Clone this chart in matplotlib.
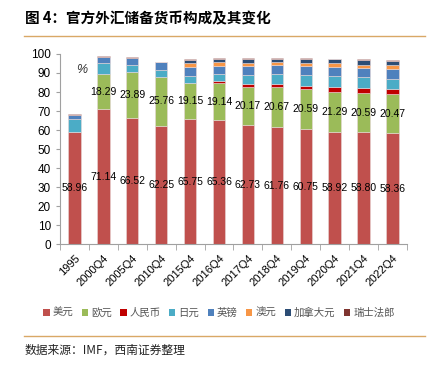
#!/usr/bin/env python3
"""
Official FX reserve currency composition (IMF COFER), stacked bars
"""
import numpy as np
import matplotlib.pyplot as plt
from matplotlib.lines import Line2D
from matplotlib.patches import Patch

plt.rcParams['font.family'] = ['Liberation Sans', 'Noto Sans CJK SC', 'DejaVu Sans']

periods = ['1995', '2000Q4', '2005Q4', '2010Q4', '2015Q4', '2016Q4',
           '2017Q4', '2018Q4', '2019Q4', '2020Q4', '2021Q4', '2022Q4']

usd = [58.96, 71.14, 66.52, 62.25, 65.75, 65.36, 62.73, 61.76, 60.75, 58.92, 58.80, 58.36]
eur = [0, 18.29, 23.89, 25.76, 19.15, 19.14, 20.17, 20.67, 20.59, 21.29, 20.59, 20.47]
cny = [0, 0, 0, 0, 0, 1.08, 1.23, 1.89, 1.94, 2.29, 2.80, 2.69]
jpy = [6.77, 6.06, 3.96, 3.66, 3.75, 3.95, 4.90, 5.19, 5.87, 6.03, 5.52, 5.51]
gbp = [2.11, 2.75, 3.75, 3.93, 4.72, 4.35, 4.54, 4.43, 4.64, 4.73, 4.81, 4.95]
aud = [0, 0, 0, 0, 1.77, 1.69, 1.80, 1.63, 1.70, 1.83, 1.84, 1.96]
cad = [0, 0, 0, 0, 1.78, 1.94, 2.03, 1.84, 1.86, 2.08, 2.38, 2.38]
chf = [0.53, 0.47, 0.35, 0.33, 0.27, 0.27, 0.28, 0.34, 0.35, 0.37, 0.37, 0.33]

series = [usd, eur, cny, jpy, gbp, aud, cad, chf]
names = ['美元', '欧元', '人民币', '日元', '英镑', '澳元', '加拿大元', '瑞士法郎']
colors = ['#C0504D', '#9BBB59', '#C00000', '#4BACC6', '#4F81BD',
          '#F79646', '#2C4D75', '#7F3530']

fig = plt.figure(figsize=(4.38, 3.67), dpi=100)
ax = fig.add_axes([0.137, 0.334, 0.792, 0.519])

x = np.arange(len(periods))
bottom = np.zeros(len(periods))
for vals, name, c in zip(series, names, colors):
    vals = np.array(vals)
    ax.bar(x, vals, 0.43, bottom=bottom, color=c, edgecolor='#E8D8D8',
           linewidth=0.4, label=name)
    bottom += vals

# value labels for USD and EUR
for i in range(len(periods)):
    ax.text(x[i], usd[i] / 2, f'{usd[i]:.2f}', ha='center', va='center',
            fontsize=7.5, color='black')
    if eur[i] > 0:
        ax.text(x[i], usd[i] + eur[i] / 2, f'{eur[i]:.2f}', ha='center',
                va='center', fontsize=7.5, color='black')

ax.set_xlim(-0.5, len(periods) - 0.5)
ax.set_ylim(0, 100)
ax.set_yticks(range(0, 101, 10))
ax.set_xticks(x)
ax.set_xticklabels(periods, rotation=45, ha='right', rotation_mode='anchor')
ax.set_xticks(np.arange(-0.5, len(periods), 1), minor=True)
ax.tick_params(axis='x', which='major', length=0, labelsize=8, pad=6)
ax.tick_params(axis='x', which='minor', length=4, color='#A0A0A0')
ax.tick_params(axis='y', labelsize=8.5, length=3, color='#A0A0A0')
for s in ['top', 'right']:
    ax.spines[s].set_visible(False)
for s in ['left', 'bottom']:
    ax.spines[s].set_color('#A0A0A0')
    ax.spines[s].set_linewidth(0.8)

ax.text(0.045, 0.9, '%', transform=ax.transAxes, fontsize=9, style='italic',
        color='#333333')

handles = [Patch(facecolor=c, edgecolor='none') for c in colors]
leg = fig.legend(handles, names, loc='center', bbox_to_anchor=(0.5, 0.147),
                 ncol=8, frameon=False, handlelength=0.6, handleheight=0.6,
                 handletextpad=0.3, columnspacing=0.8,
                 prop={'family': ['Noto Sans CJK SC'], 'size': 7.5})
for t in leg.get_texts():
    t.set_color('#555555')

# title and source lines
fig.text(0.057, 0.95, '图 4：官方外汇储备货币构成及其变化', fontsize=10.5,
         fontweight='bold', family=['Noto Sans CJK SC'], va='center')
fig.add_artist(Line2D([0.055, 0.97], [0.903, 0.903], color='#D9A866', lw=1.0))
fig.add_artist(Line2D([0.055, 0.97], [0.085, 0.085], color='#D9A866', lw=1.0))
fig.text(0.057, 0.045, '数据来源：IMF，西南证券整理', fontsize=8.5,
         family=['Noto Sans CJK SC'], va='center', color='#222222')

plt.savefig('out.png', dpi=100)
plt.close()
